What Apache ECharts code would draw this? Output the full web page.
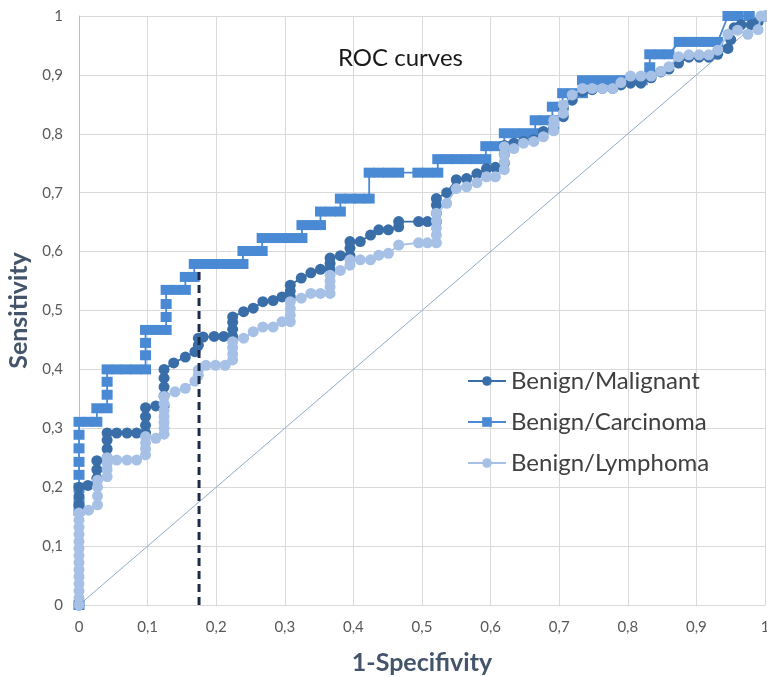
<!DOCTYPE html>
<html>
<head>
<meta charset="utf-8">
<script src="https://cdn.jsdelivr.net/npm/echarts@6/dist/echarts.min.js"></script>
<style>
html,body{margin:0;padding:0;background:#fff;overflow:hidden;}
#chart{width:767px;height:677px;}
</style>
</head>
<body>
<div id="chart"></div>
<script>
const seriesNames = ['Benign/Malignant', 'Benign/Carcinoma', 'Benign/Lymphoma'];

const malignantData = [
[0,0],[0,0.17],[0,0.185],[0,0.2],[0.013,0.203],[0.026,0.215],[0.026,0.23],[0.026,0.245],
[0.041,0.25],[0.041,0.265],[0.041,0.28],[0.041,0.292],[0.055,0.292],[0.07,0.292],[0.084,0.292],
[0.097,0.292],[0.097,0.305],[0.097,0.32],[0.097,0.335],[0.112,0.338],[0.124,0.338],[0.124,0.355],
[0.124,0.37],[0.124,0.385],[0.124,0.4],[0.138,0.411],[0.155,0.421],[0.169,0.43],[0.174,0.441],
[0.174,0.453],[0.181,0.455],[0.197,0.456],[0.211,0.456],[0.224,0.456],[0.224,0.468],[0.224,0.48],
[0.224,0.489],[0.24,0.498],[0.254,0.504],[0.268,0.515],[0.283,0.517],[0.296,0.523],[0.308,0.523],
[0.308,0.533],[0.308,0.543],[0.324,0.555],[0.338,0.564],[0.352,0.57],[0.366,0.57],[0.366,0.58],
[0.366,0.589],[0.381,0.593],[0.395,0.593],[0.395,0.606],[0.395,0.617],[0.41,0.617],[0.425,0.628],
[0.437,0.637],[0.451,0.637],[0.466,0.642],[0.466,0.651],[0.495,0.651],[0.508,0.651],[0.521,0.651],
[0.521,0.665],[0.521,0.679],[0.521,0.69],[0.536,0.7],[0.55,0.722],[0.565,0.724],[0.58,0.732],
[0.594,0.741],[0.607,0.743],[0.62,0.75],[0.62,0.765],[0.62,0.78],[0.634,0.784],[0.648,0.787],
[0.663,0.79],[0.677,0.804],[0.692,0.81],[0.692,0.823],[0.706,0.829],[0.706,0.843],[0.719,0.857],
[0.734,0.872],[0.748,0.875],[0.763,0.877],[0.778,0.877],[0.79,0.883],[0.804,0.886],[0.819,0.886],
[0.834,0.895],[0.848,0.905],[0.86,0.91],[0.874,0.92],[0.889,0.93],[0.904,0.93],[0.918,0.93],
[0.931,0.935],[0.946,0.945],[0.95,0.96],[0.955,0.98],[0.965,0.985],[0.98,0.985],[0.99,0.99],[1,1]
];

const carcinomaData = [
[0,0],[0,0.16],[0,0.175],[0,0.199],[0,0.221],[0,0.243],[0,0.266],[0,0.289],[0,0.311],
[0.013,0.311],[0.026,0.311],[0.026,0.334],[0.041,0.334],[0.041,0.357],[0.041,0.379],[0.041,0.4],
[0.055,0.4],[0.069,0.4],[0.083,0.4],[0.097,0.4],[0.097,0.424],[0.097,0.445],[0.097,0.467],
[0.112,0.467],[0.127,0.467],[0.127,0.489],[0.127,0.511],[0.127,0.535],[0.141,0.535],[0.155,0.535],
[0.155,0.557],[0.168,0.557],[0.168,0.579],[0.182,0.579],[0.196,0.579],[0.21,0.579],[0.225,0.579],
[0.239,0.579],[0.239,0.601],[0.253,0.601],[0.267,0.601],[0.267,0.623],[0.282,0.623],[0.296,0.623],
[0.311,0.623],[0.325,0.623],[0.325,0.645],[0.339,0.645],[0.352,0.645],[0.352,0.668],[0.367,0.668],
[0.381,0.668],[0.381,0.69],[0.395,0.69],[0.409,0.69],[0.423,0.69],[0.423,0.734],[0.437,0.734],
[0.451,0.734],[0.466,0.734],[0.494,0.734],[0.508,0.734],[0.523,0.734],[0.523,0.757],[0.537,0.757],
[0.551,0.757],[0.565,0.757],[0.579,0.757],[0.593,0.757],[0.593,0.779],[0.607,0.779],[0.62,0.779],
[0.62,0.801],[0.635,0.801],[0.65,0.801],[0.665,0.801],[0.665,0.823],[0.678,0.823],[0.69,0.823],
[0.69,0.846],[0.705,0.846],[0.705,0.869],[0.72,0.869],[0.734,0.869],[0.734,0.891],[0.749,0.891],
[0.763,0.891],[0.778,0.891],[0.792,0.891],[0.807,0.891],[0.821,0.891],[0.832,0.913],[0.832,0.935],
[0.846,0.935],[0.86,0.935],[0.875,0.956],[0.889,0.956],[0.903,0.956],[0.917,0.956],[0.931,0.956],
[0.946,1],[0.961,1],[0.977,1]
];

const lymphomaData = [
[0,0],[0,0.012],[0,0.024],[0,0.036],[0,0.048],[0,0.06],[0,0.072],[0,0.084],[0,0.096],[0,0.108],
[0,0.12],[0,0.132],[0,0.144],[0,0.156],[0.014,0.161],[0.027,0.17],[0.027,0.185],[0.027,0.2],
[0.027,0.212],[0.041,0.218],[0.041,0.23],[0.041,0.24],[0.041,0.25],[0.055,0.246],[0.07,0.246],
[0.084,0.246],[0.097,0.255],[0.097,0.265],[0.097,0.275],[0.097,0.286],[0.112,0.283],[0.124,0.29],
[0.124,0.3],[0.124,0.31],[0.124,0.32],[0.124,0.33],[0.124,0.342],[0.124,0.354],[0.14,0.362],
[0.155,0.368],[0.169,0.38],[0.174,0.39],[0.174,0.399],[0.185,0.407],[0.199,0.407],[0.213,0.407],
[0.224,0.416],[0.224,0.426],[0.224,0.437],[0.224,0.447],[0.24,0.453],[0.254,0.464],[0.268,0.472],
[0.283,0.472],[0.296,0.481],[0.308,0.481],[0.308,0.492],[0.308,0.503],[0.308,0.515],[0.324,0.521],
[0.338,0.529],[0.352,0.529],[0.366,0.529],[0.366,0.54],[0.366,0.55],[0.366,0.56],[0.381,0.568],
[0.395,0.577],[0.395,0.586],[0.41,0.586],[0.425,0.586],[0.437,0.594],[0.451,0.597],[0.466,0.611],
[0.495,0.615],[0.508,0.615],[0.521,0.615],[0.521,0.628],[0.521,0.64],[0.521,0.652],[0.521,0.665],
[0.536,0.682],[0.55,0.707],[0.565,0.71],[0.58,0.717],[0.594,0.727],[0.607,0.727],[0.62,0.739],
[0.62,0.752],[0.62,0.765],[0.62,0.778],[0.634,0.775],[0.648,0.784],[0.663,0.787],[0.677,0.795],
[0.692,0.805],[0.692,0.815],[0.692,0.823],[0.706,0.835],[0.706,0.849],[0.719,0.866],[0.734,0.877],
[0.748,0.877],[0.763,0.877],[0.778,0.877],[0.79,0.887],[0.804,0.898],[0.819,0.898],[0.834,0.898],
[0.848,0.906],[0.86,0.914],[0.874,0.931],[0.889,0.934],[0.904,0.934],[0.918,0.934],[0.931,0.942],
[0.946,0.969],[0.96,0.976],[0.975,0.969],[0.99,0.977],[0.994,1],[1,1]
];

const diagonalData = [[0,0],[1,1]];
const cutoffData = [[0.175,0],[0.175,0.57]];

const colors = {malignant:'#3A6EA8', carcinoma:'#4A8AD4', lymphoma:'#A6C0E6', diagonal:'#8FAACC', cutoff:'#1C2B4A'};
const FONT = 'Lato, "Open Sans", sans-serif';
const fmt = v => String(Math.round(v * 10) / 10).replace('.', ',');

const chart = echarts.init(document.getElementById('chart'), null, {renderer:'canvas'});
chart.setOption({
  animation:false,
  backgroundColor:'#fff',
  title:{
    text:'ROC curves', left:333, top:41,
    textStyle:{fontFamily:FONT, fontSize:24, fontWeight:'normal', color:'#1a1a1a'}
  },
  legend:{
    orient:'vertical', left:462, top:363,
    padding:5,
    data:seriesNames,
    itemWidth:38, itemHeight:12, itemGap:15,
    textStyle:{fontFamily:FONT, fontSize:24, color:'#404040', lineHeight:26}
  },
  grid:{left:79, right:2, top:16, bottom:72, containLabel:false, outerBoundsMode:'none'},
  xAxis:{
    type:'value', min:0, max:1, interval:0.1,
    name:'1-Specifivity', nameLocation:'middle', nameGap:45,
    nameTextStyle:{fontFamily:FONT, fontSize:25, fontWeight:'bold', color:'#44546A'},
    axisLine:{show:true, lineStyle:{color:'#D9D9D9'}},
    axisTick:{show:false},
    axisLabel:{formatter:fmt, fontFamily:FONT, fontSize:15, color:'#595959', margin:15},
    splitLine:{show:true, lineStyle:{color:'#D9D9D9', width:1}}
  },
  yAxis:{
    type:'value', min:0, max:1, interval:0.1,
    name:'Sensitivity', nameLocation:'middle', nameGap:44,
    nameTextStyle:{fontFamily:FONT, fontSize:25, fontWeight:'bold', color:'#44546A'},
    axisLine:{show:true, lineStyle:{color:'#BFBFBF'}},
    axisTick:{show:false},
    axisLabel:{formatter:fmt, fontFamily:FONT, fontSize:15, color:'#595959', margin:16},
    splitLine:{show:true, lineStyle:{color:'#D9D9D9', width:1}}
  },
  series:[
    {name:'diagonal', type:'line', data:diagonalData, symbol:'none',
     lineStyle:{color:colors.diagonal, width:1}, z:1, silent:true},
    {name:seriesNames[0], type:'line', data:malignantData, symbol:'circle', symbolSize:11,
     itemStyle:{color:colors.malignant}, lineStyle:{color:colors.malignant, width:1.8}, z:3},
    {name:seriesNames[1], type:'line', data:carcinomaData, symbol:'rect', symbolSize:[11,10],
     itemStyle:{color:colors.carcinoma}, lineStyle:{color:colors.carcinoma, width:1.8}, z:2},
    {name:seriesNames[2], type:'line', data:lymphomaData, symbol:'circle', symbolSize:11,
     itemStyle:{color:colors.lymphoma}, lineStyle:{color:colors.lymphoma, width:1.8}, z:4},
    {name:'cutoff', type:'line', data:cutoffData, symbol:'none',
     lineStyle:{color:colors.cutoff, width:3, type:[8,5]}, z:5, silent:true}
  ]
});
</script>
</body>
</html>
